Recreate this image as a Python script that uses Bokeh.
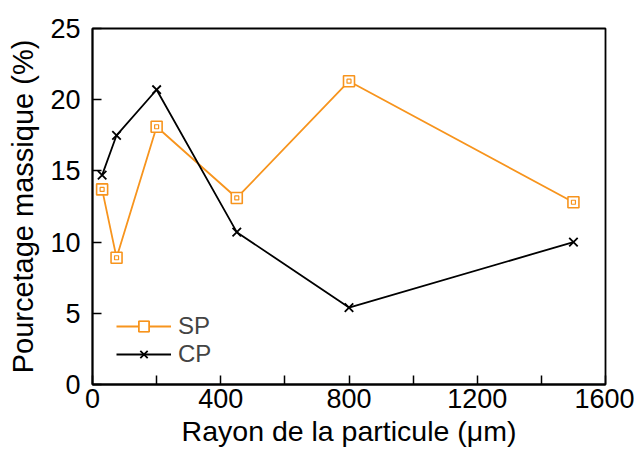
from bokeh.plotting import figure
from bokeh.models import FixedTicker, Legend, LegendItem, ColumnDataSource
from bokeh.embed import file_html
from bokeh.resources import INLINE

radius = [30, 75, 200, 450, 800, 1500]
sp = [13.7, 8.9, 18.1, 13.1, 21.3, 12.8]
cp = [14.7, 17.5, 20.7, 10.7, 5.4, 10.0]

x_ticks = [0, 400, 800, 1200, 1600]
x_minor = [200, 600, 1000, 1400]
y_ticks = [0, 5, 10, 15, 20, 25]

ORANGE = "#F7941D"
FONT = "Liberation Sans"

p = figure(width=634, height=453, output_backend="svg", toolbar_location=None,
           x_range=(0, 1600), y_range=(0, 25),
           min_border_left=92, min_border_right=29, min_border_top=28, min_border_bottom=69)
p.grid.visible = False
p.outline_line_color = "black"
p.outline_line_width = 1.8

src = ColumnDataSource(dict(x=radius, sp=sp, cp=cp))

l1 = p.line("x", "sp", source=src, line_color=ORANGE, line_width=1.8)
m1 = p.scatter("x", "sp", source=src, marker="square", size=11, fill_color="white",
               line_color=ORANGE, line_width=1.6)
m1b = p.scatter("x", "sp", source=src, marker="square", size=4, fill_color=None,
                line_color=ORANGE, line_width=1.2)
l2 = p.line("x", "cp", source=src, line_color="black", line_width=1.8)
m2 = p.scatter("x", "cp", source=src, marker="x", size=12, line_color="black", line_width=1.8)

for ax in (p.xaxis[0], p.yaxis[0]):
    ax.axis_line_width = 1.8
    ax.major_tick_line_width = 1.5
    ax.minor_tick_line_width = 1.5
    ax.major_tick_in = 9
    ax.major_tick_out = 0
    ax.major_label_text_font = FONT
    ax.major_label_text_font_size = "27px"
    ax.major_label_text_color = "black"
    ax.axis_label_text_font = FONT
    ax.axis_label_text_font_style = "normal"
    ax.axis_label_text_color = "black"

p.xaxis.ticker = FixedTicker(ticks=x_ticks, minor_ticks=x_minor)
p.xaxis.minor_tick_in = 9
p.xaxis.minor_tick_out = 0
p.xaxis.major_label_standoff = 4
p.xaxis.axis_label = "Rayon de la particule (\u03bcm)"
p.xaxis.axis_label_text_font_size = "28.5px"
p.xaxis.axis_label_standoff = 4

p.yaxis.ticker = FixedTicker(ticks=y_ticks, minor_ticks=[])
p.yaxis.minor_tick_line_color = None
p.yaxis.major_label_standoff = 12
p.yaxis.axis_label = "Pourcetage massique (%)"
p.yaxis.axis_label_text_font_size = "29px"
p.yaxis.axis_label_standoff = 8

legend = Legend(items=[LegendItem(label="SP", renderers=[l1, m1, m1b]),
                       LegendItem(label="CP", renderers=[l2, m2])],
                location=(24, 16), border_line_color=None, background_fill_alpha=0,
                label_text_font=FONT, label_text_font_size="24px",
                glyph_width=55, glyph_height=26, label_height=26, spacing=0,
                label_standoff=7, padding=0, margin=0)
p.add_layout(legend)

open("out.html", "w").write(file_html(p, INLINE))
